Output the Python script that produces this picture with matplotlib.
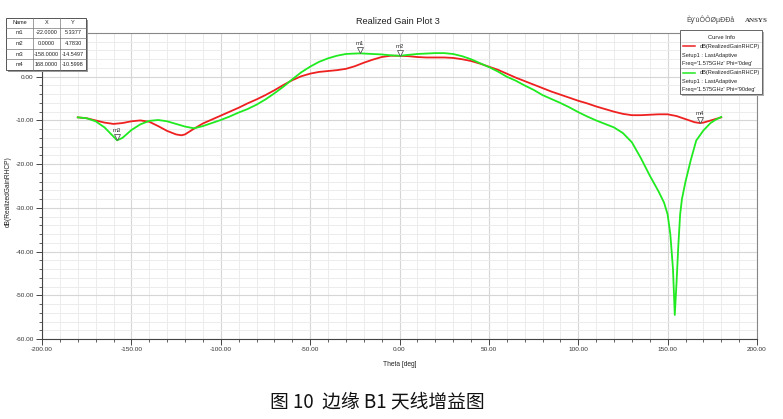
import matplotlib
matplotlib.use('Agg')
import matplotlib.pyplot as plt
import matplotlib.transforms as mtransforms
from matplotlib.patches import Rectangle
from matplotlib.lines import Line2D
import numpy as np

# ---------------- data ----------------
theta_red = [-180, -175, -170, -165, -160, -155, -150, -145, -140, -135, -130, -125, -122, -120,
             -115, -110, -105, -100, -95, -90, -85, -80, -75, -70, -65, -60, -55, -50, -45,
             -40, -35, -30, -25, -20, -15, -10, -5, 0, 5, 10, 15, 20, 25, 30, 35, 40, 45,
             50, 55, 60, 65, 70, 75, 80, 85, 90, 95, 100, 105, 110, 115, 120, 125, 130, 135,
             140, 145, 150, 155, 160, 165, 168, 170, 175, 180]
gain_red = [-9.3, -9.5, -10.0, -10.5, -10.8, -10.6, -10.2, -10.0, -10.3, -11.3, -12.4, -13.2, -13.4, -13.2,
            -11.9, -10.7, -9.8, -8.9, -8.0, -7.1, -6.1, -5.2, -4.2, -3.1, -1.9, -0.8, 0.1, 0.7, 1.1,
            1.3, 1.5, 1.8, 2.4, 3.2, 3.9, 4.5, 4.8, 4.78, 4.7, 4.5, 4.4, 4.4, 4.4, 4.3, 4.0, 3.6, 3.0,
            2.3, 1.6, 0.7, -0.2, -1.0, -1.8, -2.6, -3.4, -4.1, -4.8, -5.5, -6.1, -6.8, -7.4, -8.0,
            -8.5, -8.8, -8.8, -8.7, -8.6, -8.6, -9.0, -9.7, -10.4, -10.6, -10.5, -9.9, -9.3]

theta_green = [-180, -175, -170, -165, -160, -158, -155, -150, -145, -140, -135, -130, -125, -120,
               -115, -110, -105, -100, -95, -90, -85, -80, -75, -70, -65, -60, -55, -50, -45,
               -40, -35, -30, -25, -22, -20, -15, -10, -5, 0, 5, 10, 15, 20, 25, 30, 35, 40,
               45, 50, 55, 60, 65, 70, 75, 80, 85, 90, 95, 100, 105, 110, 115, 120, 125, 130,
               135, 140, 145, 148, 150, 151.5, 153, 154, 155, 156, 157, 158, 160, 163, 166,
               170, 174, 177, 180]
gain_green = [-9.3, -9.5, -10.2, -11.6, -13.7, -14.55, -14.0, -12.2, -10.9, -10.1, -9.9, -10.2, -10.8,
              -11.4, -11.8, -11.3, -10.6, -9.9, -9.1, -8.2, -7.4, -6.4, -5.2, -3.8, -2.3, -0.6, 1.0,
              2.3, 3.4, 4.2, 4.8, 5.2, 5.3, 5.34, 5.3, 5.2, 5.1, 4.9, 4.78, 5.0, 5.2, 5.3, 5.4, 5.4,
              5.2, 4.7, 4.0, 3.1, 2.2, 1.2, 0.0, -0.9, -2.0, -3.0, -4.2, -5.1, -6.0, -7.0, -8.1,
              -9.1, -10.0, -10.8, -11.6, -12.9, -15.0, -18.6, -22.6, -26.3, -28.8, -31.5, -36.0,
              -44.0, -54.5, -47.0, -38.5, -31.5, -28.0, -24.0, -19.0, -14.6, -12.3, -10.6, -9.8, -9.2]

marker_names = ['m1', 'm2', 'm3', 'm4']
marker_x = [-22.0, 0.0, -158.0, 168.0]
marker_y = [5.3377, 4.7830, -14.5497, -10.5998]
marker_xstr = ['-22.0000', '0.0000', '-158.0000', '168.0000']
marker_ystr = ['5.3377', '4.7830', '-14.5497', '-10.5998']

xticks = list(range(-200, 201, 50))
yticks = list(range(-60, 1, 10))

RED = '#ee2020'
GREEN = '#20ea20'
FONT = 'Liberation Sans'

# ---------------- figure ----------------
W, H = 783, 419
fig = plt.figure(figsize=(W / 100, H / 100), dpi=100)


def fx(px):
    return px / W


def fy(py):
    return 1 - py / H


ax = fig.add_axes([fx(42), fy(339), fx(757) - fx(42), fy(33) - fy(339)])
ax.set_xlim(-200, 200)
ax.set_ylim(-60, 10)

ax.set_xticks(xticks)
ax.set_xticks(np.arange(-200, 201, 10), minor=True)
ax.set_yticks(yticks)
ax.set_yticks(np.arange(-60, 11, 2), minor=True)
ax.set_xticklabels(['%.2f' % v for v in xticks], fontsize=4.6, family=FONT, color='#333333')
ax.set_yticklabels(['%.2f' % v for v in yticks], fontsize=4.6, family=FONT, color='#333333')
ax.grid(True, which='minor', color='#ececec', lw=0.7)
ax.grid(True, which='major', color='#d6d6d6', lw=0.8)
ax.set_axisbelow(True)
ax.tick_params(which='major', length=4, width=0.7, color='#444444', pad=2)
ax.tick_params(which='minor', length=2.5, width=0.6, color='#444444')
for s in ['left', 'bottom']:
    ax.spines[s].set_color('#444444')
    ax.spines[s].set_linewidth(0.8)
for s in ['top', 'right']:
    ax.spines[s].set_color('#888888')
    ax.spines[s].set_linewidth(0.8)

ax.plot(theta_red, gain_red, color=RED, lw=1.3, zorder=3)
ax.plot(theta_green, gain_green, color=GREEN, lw=1.3, zorder=3)

ax.set_xlabel('Theta [deg]', fontsize=4.8, family=FONT, labelpad=6, color='#222222')
ax.set_ylabel('dB(RealizedGainRHCP)', fontsize=4.8, family=FONT, color='#222222')
ax.yaxis.set_label_coords((12 - 42) / 715, 0.48)

# markers
tri_tr = mtransforms.offset_copy(ax.transData, fig=fig, x=0, y=2.2, units='points')
txt_tr = mtransforms.offset_copy(ax.transData, fig=fig, x=0, y=5.0, units='points')
for n, mx, my in zip(marker_names, marker_x, marker_y):
    ax.plot([mx], [my], marker='v', ms=4.2, mfc='white', mec='#555555', mew=0.6,
            transform=tri_tr, zorder=5)
    ax.text(mx, my, n, transform=txt_tr, fontsize=4.3, family=FONT, ha='center',
            va='bottom', color='#333333', zorder=5)

# title and brand texts
fig.text(fx(398), fy(21), 'Realized Gain Plot 3', fontsize=6.6, family=FONT,
         ha='center', va='center', color='#222222')
fig.text(fx(735), fy(20), "Èý'ùÔÔØµÐÐå", fontsize=5, family=FONT,
         ha='right', va='center', color='#444444')
fig.text(fx(768), fy(20), 'ANSYS', fontsize=5, family='Liberation Serif', weight='bold',
         ha='right', va='center', color='#444444')

# marker table
cols = [6, 33, 60, 86]
rows = [18, 28, 38, 49, 59, 70]
fig.patches.append(Rectangle((fx(cols[0] + 2), fy(rows[-1] + 2)),
                             fx(cols[-1] - cols[0]), fy(rows[0]) - fy(rows[-1]),
                             transform=fig.transFigure, facecolor='#9a9a9a',
                             edgecolor='none', zorder=9))
fig.patches.append(Rectangle((fx(cols[0]), fy(rows[-1])),
                             fx(cols[-1] - cols[0]), fy(rows[0]) - fy(rows[-1]),
                             transform=fig.transFigure, facecolor='white',
                             edgecolor='#555555', lw=0.7, zorder=10))
for c in cols[1:-1]:
    fig.lines.append(Line2D([fx(c), fx(c)], [fy(rows[0]), fy(rows[-1])],
                            transform=fig.transFigure, color='#777777', lw=0.5, zorder=11))
for r in rows[1:-1]:
    fig.lines.append(Line2D([fx(cols[0]), fx(cols[-1])], [fy(r), fy(r)],
                            transform=fig.transFigure, color='#777777', lw=0.5, zorder=11))
table_rows = [['Name', 'X', 'Y']] + [[n, xs, ys] for n, xs, ys in
                                      zip(marker_names, marker_xstr, marker_ystr)]
for i, row in enumerate(table_rows):
    yc = (rows[i] + rows[i + 1]) / 2
    for j, val in enumerate(row):
        xc = (cols[j] + cols[j + 1]) / 2
        fig.text(fx(xc), fy(yc), val, fontsize=4.0, family=FONT, ha='center',
                 va='center', color='#222222', zorder=12)

# curve info box
bx0, bx1, by0, by1 = 680, 762, 30, 94
fig.patches.append(Rectangle((fx(bx0 + 2), fy(by1 + 2)), fx(bx1 - bx0), fy(by0) - fy(by1),
                             transform=fig.transFigure, facecolor='#b0b0b0',
                             edgecolor='none', zorder=9))
fig.patches.append(Rectangle((fx(bx0), fy(by1)), fx(bx1 - bx0), fy(by0) - fy(by1),
                             transform=fig.transFigure, facecolor='white',
                             edgecolor='#666666', lw=0.7, zorder=10))
fig.text(fx(721), fy(37.5), 'Curve Info', fontsize=4.2, family=FONT, ha='center',
         va='center', color='#222222', zorder=12)
fig.lines.append(Line2D([fx(681), fx(761)], [fy(42), fy(42)], transform=fig.transFigure,
                        color='#cccccc', lw=0.5, zorder=11))
fig.lines.append(Line2D([fx(681), fx(761)], [fy(67.7), fy(67.7)], transform=fig.transFigure,
                        color='#999999', lw=0.5, zorder=11))
info = [(RED, 46.5, 55.7, 63.0, "Freq='1.575GHz' Phi='0deg'"),
        (GREEN, 72.7, 81.7, 89.5, "Freq='1.575GHz' Phi='90deg'")]
for col, yl, ys, yf, ftxt in info:
    fig.lines.append(Line2D([fx(683), fx(695)], [fy(yl), fy(yl)], transform=fig.transFigure,
                            color=col, lw=1.1, zorder=12))
    fig.text(fx(760), fy(yl), 'dB(RealizedGainRHCP)', fontsize=4.1, family=FONT,
             ha='right', va='center', color='#222222', zorder=12)
    fig.text(fx(682), fy(ys), 'Setup1 : LastAdaptive', fontsize=4.1, family=FONT,
             ha='left', va='center', color='#222222', zorder=12)
    fig.text(fx(682), fy(yf), ftxt, fontsize=4.1, family=FONT,
             ha='left', va='center', color='#222222', zorder=12)

# caption
fig.text(fx(377), fy(402), '图 10  边缘 B1 天线增益图', fontsize=13.5,
         family=['Noto Sans CJK SC', 'DejaVu Sans'], ha='center', va='center',
         color='#111111')

fig.savefig('out.png', dpi=100)
